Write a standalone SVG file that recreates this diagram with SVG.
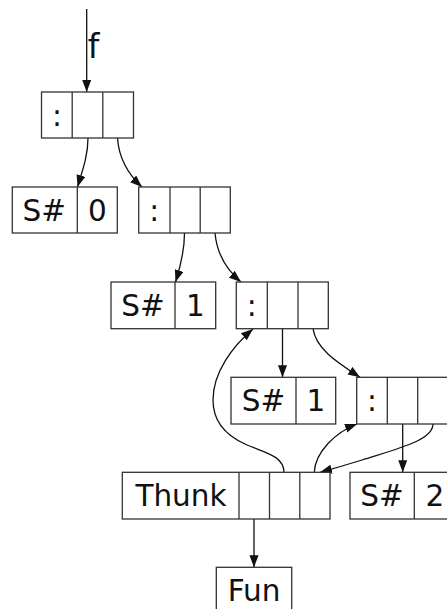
<svg xmlns="http://www.w3.org/2000/svg" width="447" height="609" viewBox="0 0 447 609">
<style>
.b{fill:#fff;stroke:#333;stroke-width:1.3}
.d{stroke:#333;stroke-width:1.3}
.t{font-family:"DejaVu Sans",sans-serif;font-size:29.5px;fill:#111;text-anchor:middle}
.c{fill:none;stroke:#111;stroke-width:1.3;marker-end:url(#ah)}
</style>
<defs>
<marker id="ah" markerUnits="userSpaceOnUse" markerWidth="13" markerHeight="10" refX="12" refY="4.5" orient="auto">
<path d="M0,0 L12,4.5 L0,9 z" fill="#111"/>
</marker>
</defs>
<rect width="447" height="609" fill="#fff"/>
<g id="connectors">
<path class="c" d="M86.7,9 L86.7,92"/>
<path class="c" d="M88,138 C88,156 82,172 77.5,187"/>
<path class="c" d="M117.5,138 C119,160 130,176 142,187"/>
<path class="c" d="M184.5,233 C184.5,252 180,268 175.5,282"/>
<path class="c" d="M215,233 C217,255 228,271 241,282"/>
<path class="c" d="M282.5,328.7 L282.5,377.3"/>
<path class="c" d="M313,328.7 C316,350 340,364 360,377.3"/>
<path class="c" d="M284,472.3 C284,455 262,452 245,444 C225,435 213,420 213,400 C213,372 233,346 253,329"/>
<path class="c" d="M314.3,472.3 C315,452 336,432 357,424"/>
<path class="c" d="M433,424 C433,440 400,448 362,460 C346,465 332,469 320,472.3"/>
<path class="c" d="M402.7,424 L402.7,472.3"/>
<path class="c" d="M254,519 L254,567.3"/>
</g>
<text class="t" x="93.5" y="57.5" style="font-size:33px">f</text>
<g id="cons1">
<rect class="b" x="41.5" y="92" width="92" height="46"/>
<line class="d" x1="72.2" y1="92" x2="72.2" y2="138"/>
<line class="d" x1="102.8" y1="92" x2="102.8" y2="138"/>
<text class="t" x="57" y="125.5">:</text>
</g>
<g id="sharp0">
<rect class="b" x="12.3" y="187" width="105" height="46"/>
<line class="d" x1="77.3" y1="187" x2="77.3" y2="233"/>
<text class="t" x="44.3" y="220.5">S#</text>
<text class="t" x="97.3" y="220.5">0</text>
</g>
<g id="cons2">
<rect class="b" x="138.7" y="187" width="91.6" height="46"/>
<line class="d" x1="170" y1="187" x2="170" y2="233"/>
<text class="t" x="154.3" y="220.5">:</text>
<line class="d" x1="200.2" y1="187" x2="200.2" y2="233"/>
</g>
<g id="sharp1a">
<rect class="b" x="111" y="282" width="104.7" height="46.7"/>
<line class="d" x1="175" y1="282" x2="175" y2="328.7"/>
<text class="t" x="143" y="316">S#</text>
<text class="t" x="195.3" y="316">1</text>
</g>
<g id="cons3">
<rect class="b" x="236.3" y="282" width="92" height="46.7"/>
<line class="d" x1="267.3" y1="282" x2="267.3" y2="328.7"/>
<line class="d" x1="298" y1="282" x2="298" y2="328.7"/>
<text class="t" x="251.8" y="316">:</text>
</g>
<g id="sharp1b">
<rect class="b" x="231" y="377.3" width="104.7" height="46.7"/>
<line class="d" x1="296" y1="377.3" x2="296" y2="424"/>
<text class="t" x="263.5" y="411">S#</text>
<text class="t" x="315.8" y="411">1</text>
</g>
<g id="cons4">
<rect class="b" x="356.7" y="377.3" width="92" height="46.7"/>
<line class="d" x1="387.3" y1="377.3" x2="387.3" y2="424"/>
<line class="d" x1="417.7" y1="377.3" x2="417.7" y2="424"/>
<text class="t" x="372" y="411">:</text>
</g>
<g id="thunk">
<rect class="b" x="122.3" y="472.3" width="207.7" height="46.7"/>
<line class="d" x1="239" y1="472.3" x2="239" y2="519"/>
<line class="d" x1="269.5" y1="472.3" x2="269.5" y2="519"/>
<line class="d" x1="299.8" y1="472.3" x2="299.8" y2="519"/>
<text class="t" x="181" y="506">Thunk</text>
</g>
<g id="sharp2">
<rect class="b" x="350" y="472.3" width="105" height="46.7"/>
<line class="d" x1="414.3" y1="472.3" x2="414.3" y2="519"/>
<text class="t" x="382" y="506">S#</text>
<text class="t" x="434.8" y="506">2</text>
</g>
<g id="fun">
<rect class="b" x="216.3" y="567.3" width="75.4" height="50"/>
<text class="t" x="254" y="601">Fun</text>
</g>
</svg>
